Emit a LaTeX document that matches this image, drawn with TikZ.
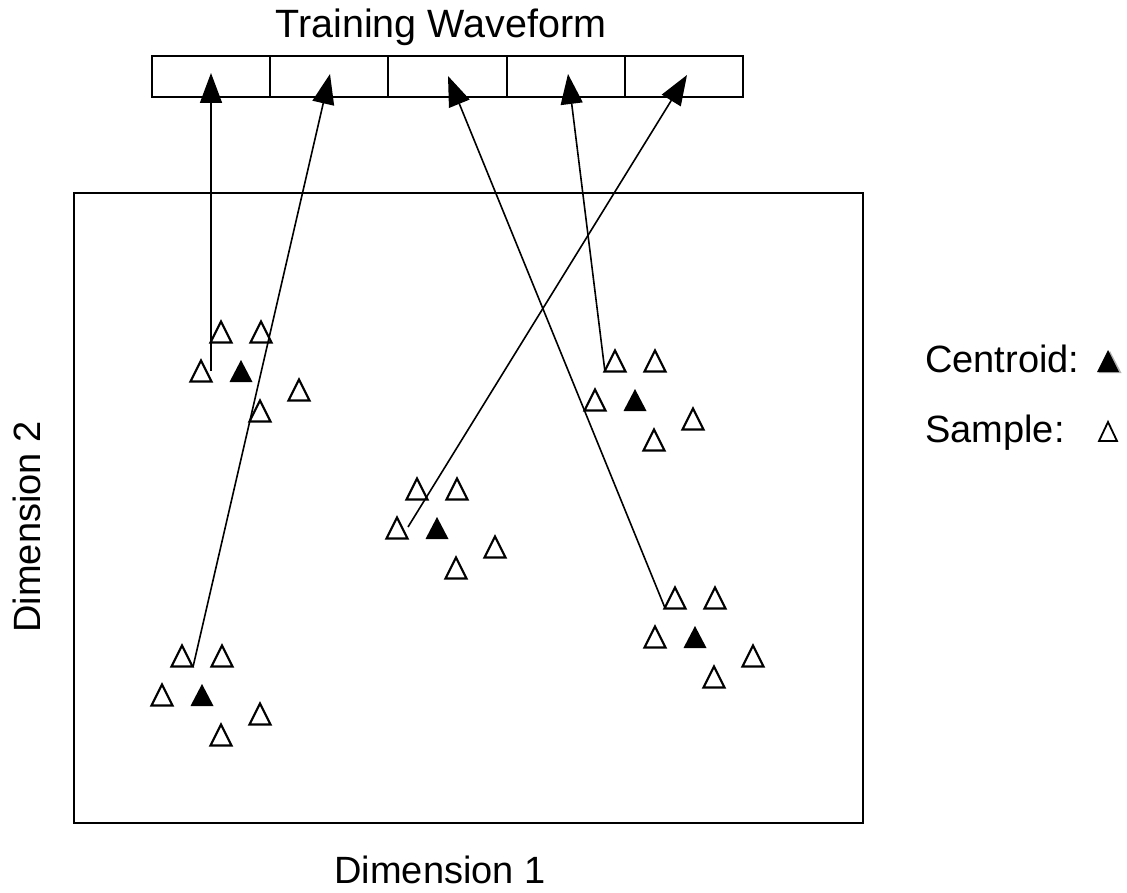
\documentclass[tikz,border=0pt]{standalone}
\usepackage{fontspec}
\setmainfont{Liberation Sans}
\usetikzlibrary{arrows.meta}
\begin{document}
\begin{tikzpicture}[x=1pt,y=-1pt,
  samp/.pic={\draw[line width=2.2pt,line join=miter] (-10.5,10.5) -- (10.5,10.5) -- (0,-10.5) -- cycle;},
  cent/.pic={\fill (-11.5,11) -- (11.5,11) -- (0,-11) -- cycle;},
  cluster/.pic={
    \pic at (0,0) {cent};
    \pic at (-20,-39) {samp};
    \pic at (20,-39) {samp};
    \pic at (-40,0) {samp};
    \pic at (58,19) {samp};
    \pic at (19,40) {samp};
    \coordinate (-c) at (0,0);},
  frame/.style={draw,line width=2pt},
  cell/.style={draw,line width=2pt,minimum width=118.2pt,minimum height=41pt,inner sep=0pt,outer sep=0pt},
  link/.style={line width=1.6pt,-{Triangle[length=30pt,width=22pt]}},
  lbl/.style={font=\fontsize{38}{44}\selectfont,inner sep=0pt}]
\useasboundingbox (0,0) rectangle (1127,893);

% training waveform
\node[lbl,anchor=base,font=\fontsize{39.5}{46}\selectfont] (title) at (441,38) {Training Waveform};
\node[cell] (c1) at (211.1,76.5) {};
\node[cell] (c2) at (329.3,76.5) {};
\node[cell] (c3) at (447.5,76.5) {};
\node[cell] (c4) at (565.7,76.5) {};
\node[cell] (c5) at (683.9,76.5) {};

% feature space
\node[frame,minimum width=789pt,minimum height=630pt,inner sep=0pt] (space) at (468.5,508) {};
\node[lbl,anchor=base] (d1) at (440,883) {Dimension 1};
\node[lbl,anchor=base,rotate=90] (d2) at (40,527) {Dimension 2};

% clusters
\pic (k1) at (241,371) {cluster};
\pic (k2) at (202,695) {cluster};
\pic (k3) at (437,528) {cluster};
\pic (k4) at (635,400) {cluster};
\pic (k5) at (695,637) {cluster};

% arrow end points
\coordinate (s1) at (211,371);
\coordinate (s2) at (193,667);
\coordinate (s3) at (665,608);
\coordinate (s4) at (605,372);
\coordinate (s5) at (408,527);
\coordinate (t1) at (211,73);
\coordinate (t2) at (330,74);
\coordinate (t3) at (448,76);
\coordinate (t4) at (568,74);
\coordinate (t5) at (687,75);

\draw[link] (s1) -- (t1);
\draw[link] (s2) -- (t2);
\draw[link] (s3) -- (t3);
\draw[link] (s4) -- (t4);
\draw[link] (s5) -- (t5);

% legend
\node[lbl,anchor=base west] (lc) at (925,372) {Centroid:};
\node[lbl,anchor=base west] (ls) at (925,442) {Sample:};
\fill[gray!60] (1098.5,373) -- (1121.5,373) -- (1110,351) -- cycle;
\fill (1097,372) -- (1119,372) -- (1108,350) -- cycle;
\draw[line width=1.8pt,line join=miter] (1099,441) -- (1117,441) -- (1108,422) -- cycle;
\end{tikzpicture}
\end{document}
